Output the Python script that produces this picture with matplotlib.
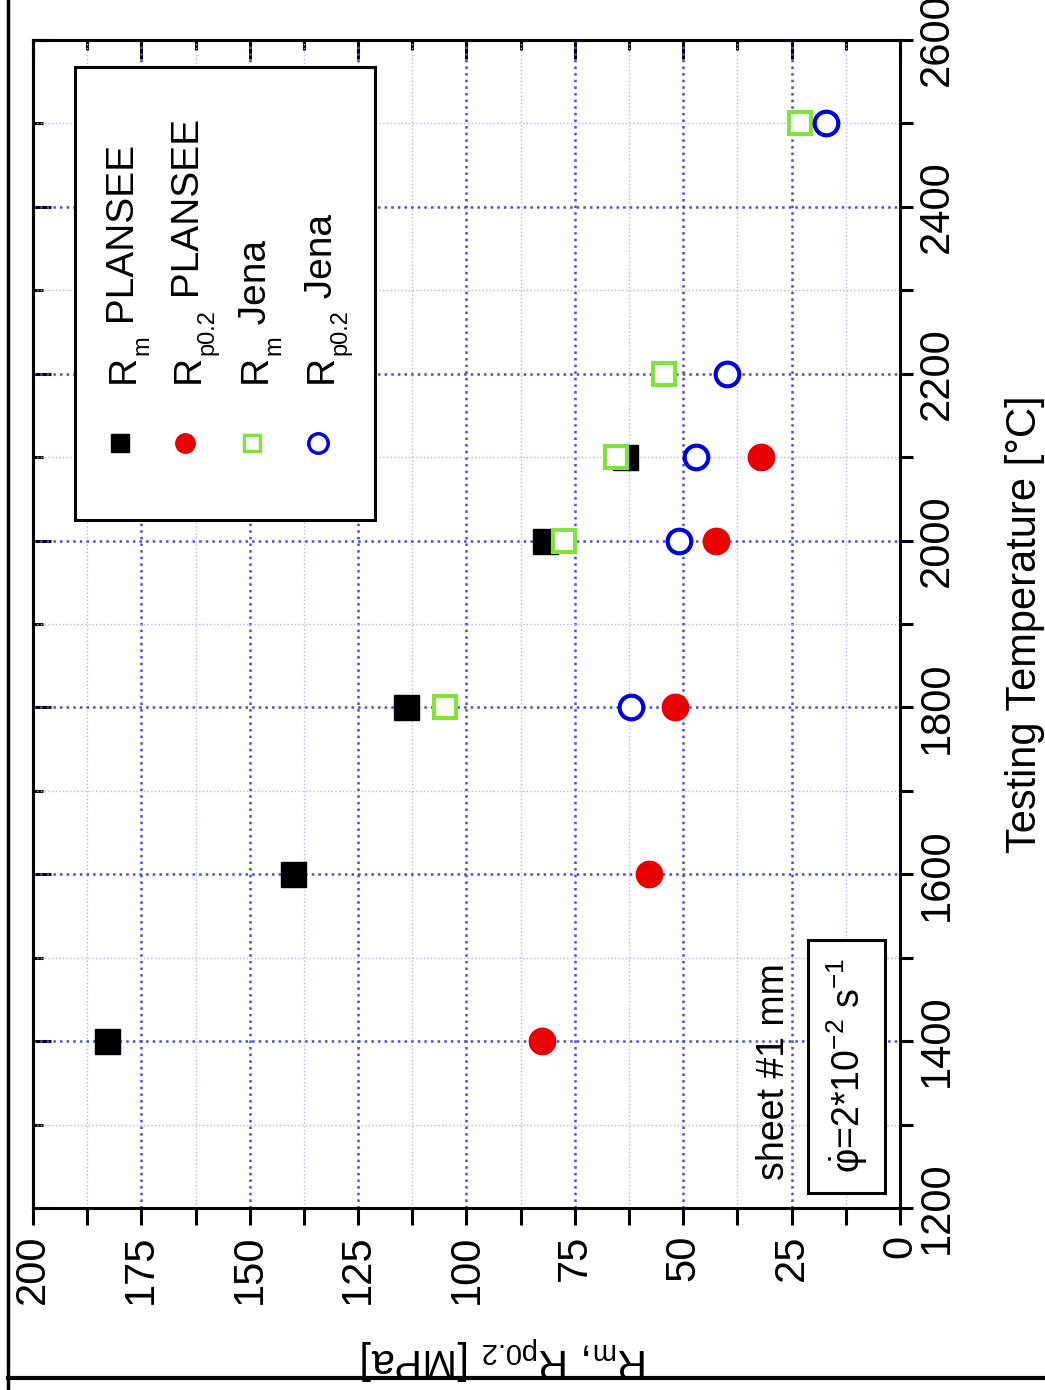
import matplotlib
matplotlib.use('Agg')
import matplotlib.pyplot as plt
from matplotlib.ticker import MultipleLocator
from matplotlib.patches import Rectangle
from matplotlib.lines import Line2D
from matplotlib.font_manager import FontProperties

plt.rcParams['font.family'] = ['Liberation Sans', 'DejaVu Sans']
plt.rcParams['mathtext.fontset'] = 'custom'
plt.rcParams['mathtext.rm'] = 'Liberation Sans'
plt.rcParams['mathtext.it'] = 'Liberation Sans:italic'
plt.rcParams['mathtext.default'] = 'regular'

# data: testing temperature [°C] vs strength [MPa]
temp_plansee = [1400, 1600, 1800, 2000, 2100]
rm_plansee = [183, 140, 114, 82, 63.5]
rp_plansee = [82.5, 58, 52, 42.5, 32]
temp_jena = [1800, 2000, 2100, 2200, 2500]
rm_jena = [105, 77.5, 65.5, 54.5, 23]
rp_jena = [62, 51, 47, 40, 17]

# legend labels as (main, subscript, rest)
labels = [('R', 'm', ' PLANSEE'), ('R', 'p0.2', ' PLANSEE'),
          ('R', 'm', ' Jena'), ('R', 'p0.2', ' Jena')]
colors = ['#000000', '#e60000', '#84e03c', '#0000d8']

W, H = 1045, 1390
fig = plt.figure(figsize=(W / 100, H / 100), dpi=100)
# whole chart is turned by 90 degrees: MPa runs right->left, temperature bottom->top
AX_L, AX_R, AX_T, AX_B = 33, 900, 40, 1208
ax = fig.add_axes([AX_L / W, 1 - AX_B / H, (AX_R - AX_L) / W, (AX_B - AX_T) / H])
renderer = fig.canvas.get_renderer()


def px(x, y):
    # pixel position -> axes fraction
    return (x - AX_L) / (AX_R - AX_L), 1 - (y - AX_T) / (AX_B - AX_T)


def text_len(s, size):
    w, h, d = renderer.get_text_width_height_descent(
        s, FontProperties(family='Liberation Sans', size=size), ismath=False)
    return w


def vertical_label(x, y, main, sub, rest, size=28, sub_size=17, drop=14):
    # text written bottom->top, baseline at pixel column x, starting at pixel row y
    for s, fs, dx in [(main, size, 0), (sub, sub_size, drop), (rest, size, 0)]:
        ax.text(*px(x + dx, y), s, transform=ax.transAxes, rotation=90,
                rotation_mode='anchor', ha='left', va='baseline', fontsize=fs, zorder=6)
        y -= text_len(s, fs)


ax.set_xlim(200, 0)
ax.set_ylim(1200, 2600)

# grid
ax.xaxis.set_major_locator(MultipleLocator(25))
ax.xaxis.set_minor_locator(MultipleLocator(12.5))
ax.yaxis.set_major_locator(MultipleLocator(200))
ax.yaxis.set_minor_locator(MultipleLocator(100))
ax.grid(which='major', color='#4a4ad6', linestyle=':', linewidth=1.8, zorder=0)
ax.grid(which='minor', color='#b4b4ec', linestyle=':', linewidth=1.0, zorder=0)

# data marks
ax.plot(rm_plansee, temp_plansee, 's', color=colors[0], ms=18, zorder=3, clip_on=False)
ax.plot(rp_plansee, temp_plansee, 'o', color=colors[1], ms=19, zorder=3, clip_on=False)
ax.plot(rm_jena, temp_jena, 's', mfc='white', mec=colors[2], mew=3, ms=16, zorder=4, clip_on=False)
ax.plot(rp_jena, temp_jena, 'o', mfc='white', mec=colors[3], mew=3, ms=17, zorder=4, clip_on=False)

# axes / ticks
for s in ax.spines.values():
    s.set_linewidth(2.2)
ax.yaxis.tick_right()
ax.yaxis.set_label_position('right')
ax.xaxis.tick_bottom()
ax.tick_params(axis='both', which='both', direction='out', width=2.2, labelsize=30)
ax.tick_params(axis='x', which='both', length=12, labelrotation=90, pad=7)
ax.tick_params(axis='y', which='both', length=9.5, labelrotation=90, pad=3)
for t in ax.get_yticklabels():
    t.set_verticalalignment('center')

secx = ax.secondary_xaxis('top')
secx.xaxis.set_major_locator(MultipleLocator(25))
secx.xaxis.set_minor_locator(MultipleLocator(12.5))
secx.tick_params(which='major', direction='in', length=14, width=2.2, labeltop=False)
secx.tick_params(which='minor', direction='in', length=7, width=2.2, labeltop=False)
secx.spines['top'].set_linewidth(2.2)

secy = ax.secondary_yaxis('left')
secy.yaxis.set_major_locator(MultipleLocator(200))
secy.yaxis.set_minor_locator(MultipleLocator(100))
secy.tick_params(which='major', direction='in', length=13, width=2.2, labelleft=False)
secy.tick_params(which='minor', direction='in', length=7, width=2.2, labelleft=False)
secy.spines['left'].set_linewidth(2.2)

ax.set_ylabel('Testing Temperature [°C]', fontsize=30, rotation=90)
ax.yaxis.set_label_coords(px(1005, 0)[0], 0.5)
ax.set_xlabel(r'R$_m$, R$_{p0.2}$ [MPa]', fontsize=30, rotation=180, va='top')
ax.xaxis.set_label_coords(px(505, 0)[0], px(0, 1334)[1])

# rotated legend drawn by hand
lx0, ly0 = px(75, 67)
lx1, ly1 = px(375, 520)
ax.add_patch(Rectangle((lx0, ly1), lx1 - lx0, ly0 - ly1, transform=ax.transAxes,
                       facecolor='white', edgecolor='black', linewidth=2.2, zorder=5))
leg_x = [120, 185, 252, 318]
leg_style = [dict(marker='s', color=colors[0], ms=13),
             dict(marker='o', color=colors[1], ms=14),
             dict(marker='s', mfc='white', mec=colors[2], mew=2.5, ms=12),
             dict(marker='o', mfc='white', mec=colors[3], mew=2.5, ms=14)]
for x, lab, st in zip(leg_x, labels, leg_style):
    mx, my = px(x, 443)
    ax.plot([mx], [my], linestyle='none', transform=ax.transAxes, zorder=6, clip_on=False, **st)
    vertical_label(x + 14, 383, *lab)

# test condition note
ax.text(*px(774, 1072), 'sheet #1 mm', transform=ax.transAxes, rotation=90,
        ha='center', va='center', fontsize=27, zorder=6)
bx0, by0 = px(808, 940)
bx1, by1 = px(885, 1193)
ax.add_patch(Rectangle((bx0, by1), bx1 - bx0, by0 - by1, transform=ax.transAxes,
                       facecolor='white', edgecolor='black', linewidth=2.2, zorder=5))
ax.text(*px(847, 1066), r'$\dot{\varphi}$=2*10$^{-2}$ s$^{-1}$', transform=ax.transAxes,
        rotation=90, ha='center', va='center', fontsize=27, zorder=6)

# outer frame (left and bottom edges of the scanned figure)
fig.add_artist(Line2D([8 / W, 8 / W], [0, 1], color='black', linewidth=2.5))
fig.add_artist(Line2D([8 / W, 1], [1 - 1378 / H, 1 - 1378 / H], color='black', linewidth=3))

fig.savefig('out.png', dpi=100)
